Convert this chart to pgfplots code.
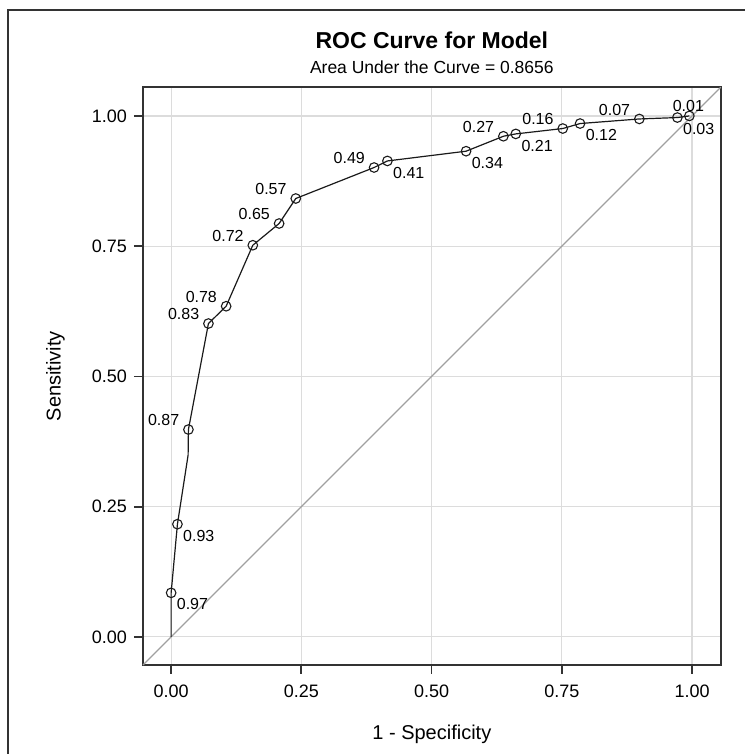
\documentclass[border=0pt]{standalone}
\usepackage{fontspec}
\setmainfont{Liberation Sans}
\usepackage{pgfplots}
\usepackage{pgfplotstable}
\pgfplotsset{compat=1.18}
\definecolor{gridc}{HTML}{DCDCDC}
\definecolor{diagc}{HTML}{A0A0A0}
\definecolor{axc}{HTML}{333333}
\definecolor{curvec}{HTML}{1A1A1A}

% ROC curve path (x = 1 - specificity, y = sensitivity)
\pgfplotstableread{
x y
0 0
0 0.0845
0.0121 0.2163
0.0326 0.349
0.0332 0.398
0.0716 0.6015
0.1056 0.6347
0.1568 0.7518
0.2073 0.7935
0.2393 0.8415
0.3896 0.901
0.4152 0.9136
0.5662 0.9323
0.6378 0.961
0.6616 0.9655
0.7518 0.9758
0.7850 0.9854
0.8988 0.9942
0.9718 0.9969
0.9948 1.0
}\curvetab

% labelled cut points, label above-left
\pgfplotstableread{
x y lab
0.0332 0.398 0.87
0.0716 0.6015 0.83
0.1056 0.6347 0.78
0.1568 0.7518 0.72
0.2073 0.7935 0.65
0.2393 0.8415 0.57
0.3896 0.901 0.49
0.6378 0.961 0.27
0.7518 0.9758 0.16
0.8988 0.9942 0.07
}\leftlab

% labelled cut points, label below-right
\pgfplotstableread{
x y lab
0 0.0845 0.97
0.0121 0.2163 0.93
0.4152 0.9136 0.41
0.5662 0.9323 0.34
0.6616 0.9655 0.21
0.7850 0.9854 0.12
0.9718 0.9969 0.03
}\rightlab

% labelled cut point, label above
\pgfplotstableread{
x y lab
0.9948 1.0 0.01
}\toplab

\begin{document}
\begin{tikzpicture}
\useasboundingbox (0,0) rectangle (372.5pt,377pt);
\draw[axc, line width=1pt] (4.15pt,0) -- (4.15pt,372pt) -- (372.5pt,372pt);
\begin{axis}[
  at={(71.5pt,44.5pt)}, anchor=south west,
  scale only axis, width=288.85pt, height=288.85pt,
  xmin=-0.054, xmax=1.055, ymin=-0.054, ymax=1.055,
  xtick={0,0.25,0.5,0.75,1}, ytick={0,0.25,0.5,0.75,1},
  xticklabels={0.00,0.25,0.50,0.75,1.00},
  yticklabels={0.00,0.25,0.50,0.75,1.00},
  tick align=outside, xtick pos=bottom, ytick pos=left,
  major tick length=4.5pt,
  tick style={axc, line width=0.9pt},
  axis line style={axc, line width=0.9pt},
  grid=major, major grid style={gridc, line width=0.6pt},
  ticklabel style={font=\fontsize{9}{10}\selectfont, inner sep=0pt},
  xticklabel style={anchor=north, yshift=-5.5pt},
  yticklabel style={anchor=east, xshift=-3.3pt},
  clip=false,
]
\addplot[diagc, line width=0.65pt] coordinates {(-0.054,-0.054) (1.055,1.055)};
\addplot[curvec, line width=0.6pt, mark=none] table[x=x,y=y] {\curvetab};
\addplot[only marks, mark=o, mark size=2.4pt, mark options={curvec, line width=0.55pt},
  nodes near coords, point meta=explicit symbolic,
  nodes near coords style={anchor=base east, inner sep=0pt, xshift=-4.35pt, yshift=1.9pt, font=\fontsize{8}{9}\selectfont, text=black}]
  table[x=x,y=y,meta=lab] {\leftlab};
\addplot[only marks, mark=o, mark size=2.4pt, mark options={curvec, line width=0.55pt},
  nodes near coords, point meta=explicit symbolic,
  nodes near coords style={anchor=north west, inner sep=0pt, xshift=2.6pt, yshift=-2.7pt, font=\fontsize{8}{9}\selectfont, text=black}]
  table[x=x,y=y,meta=lab] {\rightlab};
\addplot[only marks, mark=o, mark size=2.4pt, mark options={curvec, line width=0.55pt},
  nodes near coords, point meta=explicit symbolic,
  nodes near coords style={anchor=base, inner sep=0pt, xshift=-0.5pt, yshift=2.3pt, font=\fontsize{8}{9}\selectfont, text=black}]
  table[x=x,y=y,meta=lab] {\toplab};
\node[anchor=base, yshift=19.4pt, font=\bfseries\fontsize{11.5}{13}\selectfont] at (rel axis cs:0.5,1) {ROC Curve for Model};
\node[anchor=base, yshift=6.9pt, font=\fontsize{8.75}{10}\selectfont] at (rel axis cs:0.5,1) {Area Under the Curve = 0.8656};
\node[anchor=base, yshift=-37.15pt, font=\fontsize{10}{12}\selectfont] at (rel axis cs:0.5,0) {1 - Specificity};
\node[xshift=-41.25pt, rotate=90, anchor=base, font=\fontsize{10}{12}\selectfont] at (rel axis cs:0,0.5) {Sensitivity};
\end{axis}
\end{tikzpicture}
\end{document}
